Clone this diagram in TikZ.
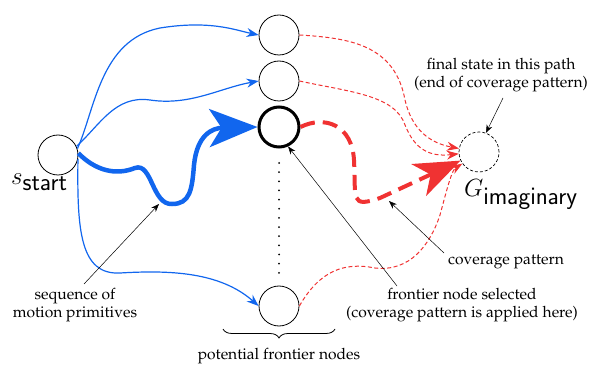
\documentclass[tikz,border=0pt]{standalone}
\usepackage[T1]{fontenc}
\renewcommand{\rmdefault}{ppl}
\usetikzlibrary{arrows.meta,decorations.pathreplacing}
\definecolor{pathblue}{RGB}{17,102,238}
\definecolor{pathred}{RGB}{240,50,50}
\tikzset{
  state/.style={circle,draw,line width=0.8pt,minimum size=40pt,inner sep=0pt},
  chosen/.style={circle,draw,line width=3pt,minimum size=40pt,inner sep=0pt},
  goal/.style={circle,draw,densely dashed,line width=0.7pt,minimum size=40pt,inner sep=0pt},
  motion/.style={pathblue,line width=1.2pt,-{Stealth[length=12pt,width=9pt]}},
  bigmotion/.style={pathblue,line width=4.5pt,-{Stealth[length=48pt,width=38pt,inset=12pt]}},
  cover/.style={pathred,line width=1pt,dash pattern=on 4pt off 2.5pt,-{Stealth[length=12pt,width=9pt]}},
  bigcover/.style={pathred,line width=4pt,dash pattern=on 15pt off 8pt,-{Stealth[length=46pt,width=35pt,inset=13pt]}},
  note/.style={font=\fontsize{15.6}{18.5}\selectfont,align=center},
  pointer/.style={line width=0.5pt,-{Stealth[length=8pt,width=6pt]}},
  biglabel/.style={font=\fontsize{34}{40}\selectfont,inner sep=0pt}
}
\begin{document}
\begin{tikzpicture}[x=1pt,y=-1pt]
\useasboundingbox (0,0) rectangle (589,366);

% states
\node[state] (s) at (58,155) {};
\node[state] (f1) at (279,35) {};
\node[state] (f2) at (279,81) {};
\node[chosen] (f3) at (279,127) {};
\node[state] (f4) at (279,306) {};
\node[goal] (g) at (479,152) {};

\node[biglabel,anchor=base west] (slab) at (11,185) {$s_{\mathsf{start}}$};
\node[biglabel,anchor=base west] (glab) at (464,197) {$G_{\mathsf{imaginary}}$};

% vertical ellipsis between frontier nodes
\draw[line width=2pt,dash pattern=on 0pt off 9.15pt,line cap=round] (279,163) -- (279,274);

% motion primitives
\draw[motion] (s.18) .. controls (95,110) and (100,40) .. (160,28)
  .. controls (210,20) and (235,30) .. (f1.west);
\draw[motion] (s.25) .. controls (100,125) and (115,95) .. (150,100)
  .. controls (190,106) and (220,88) .. (f2.west);
\draw[bigmotion] (s.5) .. controls (95,170) and (115,176) .. (135,168)
  .. controls (152,162) and (152,205) .. (172,204)
  .. controls (190,204) and (192,190) .. (194,165)
  .. controls (197,135) and (212,128) .. (f3.west);
\draw[motion] (s.-12) .. controls (77,230) and (80,275) .. (120,273)
  .. controls (170,270) and (220,272) .. (f4.west);

% coverage patterns
\draw[cover] (f1.east) .. controls (350,38) and (395,45) .. (405,100)
  .. controls (412,130) and (430,143) .. (g.170);
\draw[cover] (f2.east) .. controls (350,92) and (395,95) .. (405,125)
  .. controls (415,150) and (430,157) .. (g.185);
\draw[cover] (f4.east) .. controls (320,270) and (345,262) .. (375,268)
  .. controls (410,272) and (430,245) .. (440,215)
  .. controls (448,185) and (452,170) .. (g.215);
\draw[bigcover] (f3.east) .. controls (325,115) and (352,125) .. (354,160)
  .. controls (356,200) and (350,208) .. (380,198)
  -- (g.205);

% annotations
\node[note] (seq) at (75,305) {sequence of\\motion primitives};
\coordinate (seqtip) at (159,204);
\draw[pointer] (84,284) -- (seqtip);

\node[note] (sel) at (462,305) {frontier node selected\\(coverage pattern is applied here)};
\draw[pointer] (397,286) -- (f3.-65);

\node[note] (cov) at (506,262) {coverage pattern};
\coordinate (covtip) at (389,201);
\draw[pointer] (444,253) -- (covtip);

\node[note] (fin) at (501,75) {final state in this path\\(end of coverage pattern)};
\draw[pointer] (503,98) -- (g.70);

\draw[decorate,decoration={brace,mirror,amplitude=9pt},line width=0.8pt] (223,329) -- (335,329);
\node[note] (pot) at (279,356) {potential frontier nodes};
\end{tikzpicture}
\end{document}
